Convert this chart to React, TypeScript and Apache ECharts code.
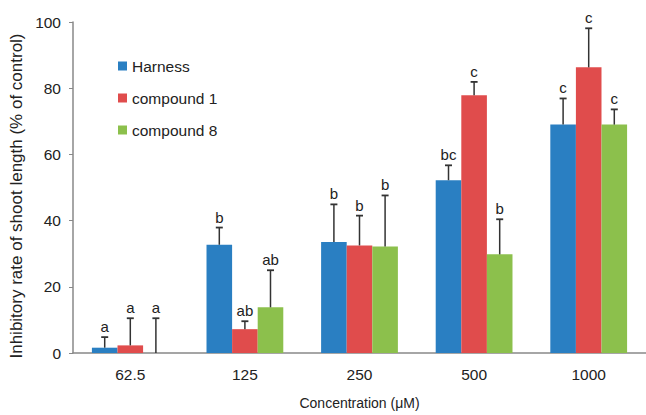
import React, { useEffect, useRef } from "react";
import * as echarts from "echarts";

const categories = ["62.5", "125", "250", "500", "1000"];
const seriesNames = ["Harness", "compound 1", "compound 8"];
const harness = [1.6, 32.7, 33.5, 52.2, 69.0];
const compound1 = [2.3, 7.2, 32.5, 77.9, 86.3];
const compound8 = [0, 13.8, 32.2, 29.8, 69.0];
const harnessErrTop = [4.8, 37.9, 44.9, 56.7, 76.9];
const compound1ErrTop = [10.5, 9.6, 41.5, 81.9, 98.1];
const compound8ErrTop = [10.5, 25.0, 47.6, 40.4, 73.6];
const harnessLetters = ["a", "b", "b", "bc", "c"];
const compound1Letters = ["a", "ab", "b", "c", "c"];
const compound8Letters = ["a", "ab", "b", "b", "c"];
const yTicks = [0, 20, 40, 60, 80, 100];
const yTitle = "Inhibitory rate of shoot length (% of control)";
const xTitle = "Concentration (μM)";

const colors = ["#2a7fc2", "#e04c4c", "#8cc04c"];
const values = [harness, compound1, compound8];
const errTops = [harnessErrTop, compound1ErrTop, compound8ErrTop];
const letters = [harnessLetters, compound1Letters, compound8Letters];
const GAP = 0.33;

export default function App() {
  const ref = useRef<HTMLDivElement>(null);
  useEffect(() => {
    document.body.style.margin = "0";
    const chart = echarts.init(ref.current!, null, { renderer: "svg" });
    const font = "Liberation Sans, Arial, sans-serif";
    const bars = values.map((v, i) => ({
      name: seriesNames[i],
      type: "bar",
      data: v,
      barGap: "0%",
      barCategoryGap: GAP * 100 + "%",
      itemStyle: { color: colors[i] },
      z: 2,
    }));
    const errs = values.map((v, i) => ({
      type: "custom",
      name: "err" + i,
      z: 5,
      data: v.map((val, j) => [j, val, errTops[i][j]]),
      renderItem: (params: any, api: any) => {
        const idx = api.value(0);
        const val = api.value(1);
        const top = api.value(2);
        const letter = (letters[i] as string[])[idx];
        const band = api.size([1, 0])[0];
        const bw = (band * (1 - GAP)) / 3;
        const base = api.coord([idx, val]);
        const tp = api.coord([idx, top]);
        const x = base[0] + (i - 1) * bw;
        return {
          type: "group",
          children: [
            { type: "line", shape: { x1: x, y1: base[1], x2: x, y2: tp[1] }, style: { stroke: "#333", lineWidth: 1.5 } },
            { type: "line", shape: { x1: x - 3.5, y1: tp[1], x2: x + 3.5, y2: tp[1] }, style: { stroke: "#333", lineWidth: 1.8 } },
            {
              type: "text",
              x: x,
              y: tp[1] - 3,
              style: { text: letter, fill: "#222", font: "15px " + font, textAlign: "center", textVerticalAlign: "bottom" },
            },
          ],
        };
      },
    }));
    chart.setOption({
      animation: false,
      textStyle: { fontFamily: font },
      legend: {
        data: seriesNames,
        orient: "vertical",
        left: 113,
        top: 53,
        itemWidth: 9,
        itemHeight: 9,
        itemGap: 16,
        icon: "rect",
        textStyle: { fontSize: 15.5, color: "#222", fontFamily: font },
      },
      graphic: [
        {
          type: "text",
          x: 16,
          y: 196,
          rotation: Math.PI / 2,
          style: {
            text: yTitle,
            fill: "#222",
            font: "17px " + font,
            textAlign: "center",
            textVerticalAlign: "middle",
          },
        },
      ],
      grid: { left: 73, top: 22, width: 575, height: 334 },
      xAxis: {
        type: "category",
        data: categories,
        name: xTitle,
        nameLocation: "middle",
        nameGap: 43,
        nameTextStyle: { fontSize: 14, color: "#222" },
        axisLine: { lineStyle: { color: "#888", width: 1.5 } },
        axisTick: { inside: true, length: 4, lineStyle: { color: "#888" } },
        axisLabel: { fontSize: 15.5, color: "#222", margin: 13 },
      },
      yAxis: {
        type: "value",
        min: yTicks[0],
        max: yTicks[yTicks.length - 1],
        interval: 20,
        axisLine: { show: true, lineStyle: { color: "#888", width: 1.5 } },
        axisTick: { show: true, length: 4, lineStyle: { color: "#888" } },
        axisLabel: { fontSize: 15.5, color: "#222", margin: 12 },
        splitLine: { show: false },
      },
      series: [...bars, ...errs],
    });
    return () => chart.dispose();
  }, []);
  return <div ref={ref} style={{ width: 646, height: 415 }} />;
}
